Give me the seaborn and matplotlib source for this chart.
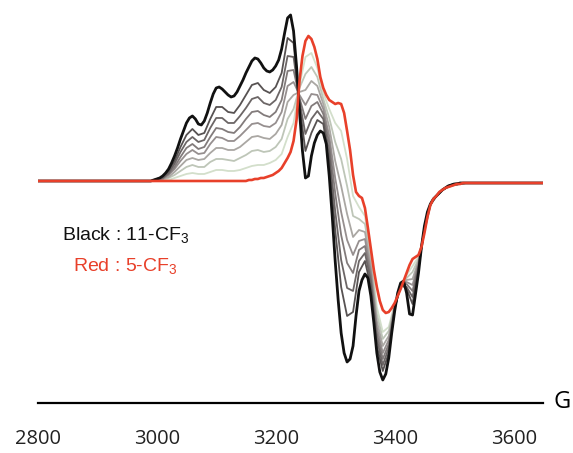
import numpy as np
import pandas as pd
import matplotlib
matplotlib.use("Agg")
import matplotlib.pyplot as plt
import seaborn as sns

# ---------------- data ----------------
x_ticks = [2800, 3000, 3200, 3400, 3600]
x_unit = "G"
legend_black = "Black : 11-CF$_3$"
legend_red = "Red : 5-CF$_3$"

# fine grid (5 G) for black / red, coarse grid (10 G) for the intermediate traces
field_fine = np.concatenate([[2800, 2990], np.arange(3000, 3525, 5), [3650]])
field_coarse = np.concatenate([[2800, 2990], np.arange(3000, 3530, 10), [3650]])

black = [0, 0,
         2, 3, 5, 8, 12, 18, 25, 33, 42, 50, 58, 63, 65, 62, 57, 56, 60, 68, 78, 87,
         93, 94, 92, 89, 86, 84, 85, 89, 95, 101, 108, 114, 120, 123, 122, 118, 113, 110, 109, 111,
         115, 121, 132, 148, 163, 166, 150, 115, 70, 30, 3, 5, 25, 38, 46, 50, 48, 37, 5, -35,
         -80, -119, -152, -172, -181, -178, -165, -135, -110, -99, -93, -97, -115, -142, -172, -191, -199, -193, -177, -152,
         -130, -112, -102, -100, -112, -133, -134, -113, -92, -66, -45, -31, -23, -18, -15, -12, -9, -7, -5, -4,
         -3, -3, -2, -2, -2,
         -2]

red = [0, 0,
       0, 0, 0, 0, 0, 0, 0, 0, 0, 0, 0, 0, 0, 0, 0, 0, 0, 0, 0, 0,
       0, 0, 0, 0, 0, 0, 0, 0, 0, 0, 0, 1, 1, 2, 2, 3, 3, 4, 5, 6,
       8, 10, 13, 18, 23, 29, 40, 61, 100, 125, 140, 145, 142, 134, 122, 104, 93, 86, 81, 79,
       77, 78, 77, 68, 50, 31, 6, -11, -15, -17, -27, -47, -68, -89, -106, -120, -129, -132, -131, -127,
       -122, -115, -108, -100, -92, -84, -78, -76, -74, -66, -52, -36, -24, -18, -15, -11, -9, -7, -6, -5,
       -4, -3, -3, -2, -2,
       -2]

gray1 = [0, 0, 2, 4, 10, 20, 34, 46, 52, 46, 48, 62, 74, 74, 69, 68, 76, 86, 96, 98, 91, 88, 94, 108, 143, 138, 76,
         30, 48, 61, 57, 20, -49, -106, -135, -131, -91, -80, -106, -165, -190, -172, -128, -103, -108, -123, -88,
         -46, -23, -15, -9, -5, -3, -2, -2, -2]
gray2 = [0, 0, 1, 3, 8, 17, 29, 39, 44, 39, 41, 53, 63, 63, 58, 58, 65, 73, 82, 84, 78, 76, 81, 94, 125, 124, 80,
         47, 62, 70, 62, 29, -30, -79, -107, -110, -80, -72, -100, -158, -184, -167, -127, -104, -106, -116, -86,
         -47, -23, -15, -9, -5, -3, -2, -2, -2]
gray3 = [0, 0, 1, 3, 7, 14, 24, 33, 37, 32, 34, 44, 53, 52, 49, 48, 54, 62, 69, 70, 66, 64, 69, 81, 110, 111, 83,
         62, 75, 79, 67, 38, -12, -54, -82, -92, -69, -65, -95, -152, -178, -163, -127, -105, -103, -110, -84,
         -48, -23, -15, -9, -5, -3, -2, -2, -2]
gray4 = [0, 0, 1, 2, 6, 12, 20, 27, 31, 27, 28, 37, 44, 43, 40, 40, 45, 51, 57, 58, 55, 54, 58, 69, 95, 99, 86,
         76, 87, 86, 72, 45, 3, -31, -59, -74, -60, -58, -90, -146, -172, -159, -126, -105, -101, -104, -82,
         -49, -24, -15, -9, -5, -3, -3, -2, -2]
gray5 = [0, 0, 1, 2, 4, 9, 15, 21, 23, 21, 22, 28, 33, 33, 31, 31, 34, 39, 44, 45, 43, 42, 47, 56, 79, 86, 89,
         91, 100, 95, 77, 54, 20, -5, -33, -56, -49, -51, -85, -140, -165, -155, -125, -106, -99, -98, -80,
         -50, -24, -15, -9, -6, -4, -3, -2, -2]
gray6 = [0, 0, 0, 1, 3, 6, 10, 14, 16, 14, 14, 19, 22, 22, 21, 20, 23, 26, 30, 31, 29, 30, 34, 42, 62, 72, 93,
         107, 114, 104, 82, 63, 39, 22, -5, -35, -38, -43, -79, -133, -158, -150, -124, -107, -97, -91, -78,
         -50, -24, -15, -9, -6, -4, -3, -2, -2]
gray7 = [0, 0, 0, 1, 1, 3, 5, 7, 8, 7, 7, 9, 11, 11, 10, 10, 11, 13, 15, 16, 16, 18, 21, 27, 44, 58, 96,
         124, 128, 113, 88, 72, 58, 50, 22, -15, -26, -35, -74, -126, -151, -146, -123, -107, -94, -85, -76,
         -51, -24, -15, -9, -6, -4, -3, -2, -2]

grays = [gray1, gray2, gray3, gray4, gray5, gray6, gray7]
gray_colors = ["#575252", "#6c6666", "#827b7b", "#968f8f", "#aaa7a3", "#bec6b8", "#d3dfcb"]

# ---------------- figure ----------------
sns.set_style("white")
plt.rcParams["font.family"] = ["Liberation Sans", "DejaVu Sans"]
plt.rcParams["mathtext.fontset"] = "custom"
plt.rcParams["mathtext.rm"] = "Liberation Sans"
plt.rcParams["mathtext.it"] = "Liberation Sans:italic"
plt.rcParams["mathtext.bf"] = "Liberation Sans:bold"

fig = plt.figure(figsize=(5.73, 4.53), dpi=100)
ax = fig.add_axes([0.0658, 0.1104, 0.8826, 0.8786])

df_gray = pd.DataFrame({"field": np.tile(field_coarse, len(grays)),
                        "signal": np.concatenate(grays),
                        "trace": np.repeat([f"g{i}" for i in range(len(grays))], len(field_coarse))})

# lightest first so darker traces sit on top
for i in reversed(range(len(grays))):
    sub = df_gray[df_gray["trace"] == f"g{i}"]
    sns.lineplot(data=sub, x="field", y="signal", color=gray_colors[i], lw=1.3,
                 estimator=None, sort=False, ax=ax)

sns.lineplot(x=field_fine, y=black, color="#111111", lw=2.0, estimator=None, sort=False, ax=ax)
sns.lineplot(x=field_fine, y=red, color="#e8402a", lw=1.9, estimator=None, sort=False, ax=ax)

ax.set_xlim(2800, 3650)
ax.set_ylim(-222, 176)
ax.set_yticks([])
ax.set_xticks(x_ticks)
ax.set_xticklabels([str(t) for t in x_ticks], fontfamily="Open Sans", fontsize=14.5, color="#222222")
ax.set_xlabel("")
ax.set_ylabel("")
for s in ["top", "left", "right"]:
    ax.spines[s].set_visible(False)
ax.spines["bottom"].set_color("black")
ax.spines["bottom"].set_linewidth(1.6)
ax.tick_params(axis="x", direction="out", length=5, width=1.6, pad=14, colors="black",
               labelcolor="#222222")
ax.set_facecolor("white")

fig.text(562 / 573, 1 - 402 / 453, x_unit, ha="center", va="center", fontsize=17,
         fontfamily="Open Sans", color="black")

fig.text(61.7 / 573, 1 - 239.5 / 453, legend_black, ha="left", va="baseline", fontsize=14, color="#111111")
fig.text(73 / 573, 1 - 271.5 / 453, legend_red, ha="left", va="baseline", fontsize=14, color="#e8402a")

fig.savefig("out.png", dpi=100, facecolor="white")
